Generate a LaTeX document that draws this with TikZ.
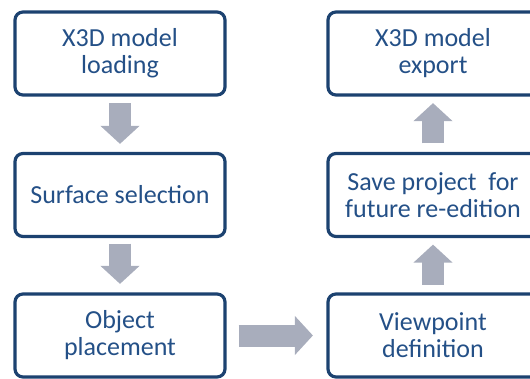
\documentclass[tikz,border=0pt]{standalone}
\usepackage{fontspec}
\setmainfont{Carlito}
\usepackage{tikz}
\usetikzlibrary{
  arrows.meta,
  calc
}
\definecolor{stageblue}{RGB}{28,66,112}
\definecolor{labelblue}{RGB}{36,80,135}
\definecolor{flowgray}{RGB}{168,173,188}

\begin{document}
\begin{tikzpicture}[x=1pt, y=-1pt,
  font=\fontsize{26}{27}\selectfont,
  stage/.style={draw=stageblue, line width=3.2pt, rounded corners=8pt,
    fill=white, text=labelblue, align=center, inner sep=0pt,
    minimum width=210pt, minimum height=83pt},
  flow/.style={draw=flowgray, line width=22pt,
    -{Triangle[width=38pt, length=18pt]}}]
  \useasboundingbox (0, 0) rectangle (530, 379);
  \clip (0, 0) rectangle (530, 379);

  % Left column (top to bottom)
  \node[stage] (load) at (120, 53.5) {X3D model\\loading};
  \node[stage] (surf) at (120, 195) {Surface selection};
  \node[stage] (place) at (120, 335.5) {Object\\placement};

  % Right column (bottom to top)
  \node[stage] (view) at (433, 335.5) {Viewpoint\\definition};
  \node[stage] (save) at (433, 195) {Save project~ for\\future re-edition};
  \node[stage] (export) at (433, 53.5) {X3D model\\export};

  % Block arrows
  \draw[flow, shorten <=6.5pt, shorten >=8pt] (load) -- (surf);
  \draw[flow, shorten <=5.5pt, shorten >=8.5pt] (surf) -- (place);
  \draw[flow, shorten <=12pt, shorten >=13.5pt] (place) -- (view);
  \draw[flow, shorten <=7.5pt, shorten >=6.5pt] (view) -- (save);
  \draw[flow, shorten <=8.5pt, shorten >=6.5pt] (save) -- (export);
\end{tikzpicture}
\end{document}
